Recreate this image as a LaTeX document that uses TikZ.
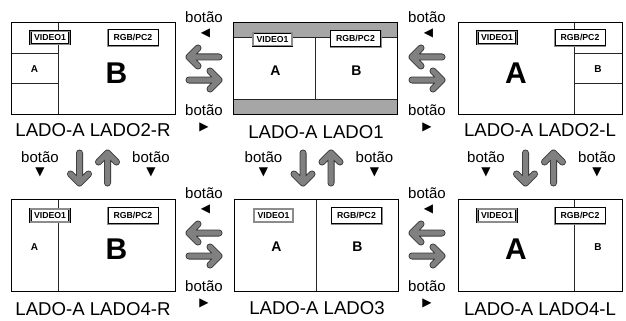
\documentclass[tikz,border=0pt]{standalone}
\usepackage{fontspec}
\setmainfont{Liberation Sans}
\newfontfamily\symfont{DejaVu Sans}
\begin{document}
\begin{tikzpicture}[x=1pt,y=-1pt,
  screen/.style={draw=black, line width=1pt},
  divider/.style={draw=black!85, line width=0.8pt},
  graybar/.style={fill=black!35},
  vidbox/.style={draw=black, double=black!45, double distance=1.1pt, line width=0.5pt, fill=white,
    inner sep=0pt, minimum width=39pt, minimum height=13pt, font=\bfseries\fontsize{8.7}{9}\selectfont},
  rgbbox/.style={draw=black, line width=0.5pt, fill=white, preaction={draw=black!45,line width=2pt},
    inner sep=0pt, minimum width=50pt, minimum height=16pt, font=\bfseries\fontsize{8.7}{9}\selectfont},
  smalltxt/.style={font=\bfseries\fontsize{10}{11}\selectfont},
  midtxt/.style={font=\bfseries\fontsize{14}{15}\selectfont},
  bigtxt/.style={font=\bfseries\fontsize{30}{31}\selectfont},
  ladolbl/.style={font=\fontsize{18.6}{19}\selectfont, inner sep=0pt},
  btnlbl/.style={font=\fontsize{15}{16}\selectfont, inner sep=0pt},
  tri/.style={font=\symfont\fontsize{12}{13}\selectfont, inner sep=0pt},
  arrowbody/.style={draw=black!78, double=black!50, double distance=5.2pt, line width=0.9pt,
    line cap=round, line join=round},
  arrL/.pic={\draw[arrowbody] (15,0) -- (-15,0) -- (-6,-9) (-15,0) -- (-6,9);},
  arrR/.pic={\draw[arrowbody] (-15,0) -- (15,0) -- (6,-9) (15,0) -- (6,9);},
  arrD/.pic={\draw[arrowbody] (0,-15) -- (0,15) -- (-9,6) (0,15) -- (9,6);},
  arrU/.pic={\draw[arrowbody] (0,15) -- (0,-15) -- (-9,-6) (0,-15) -- (9,-6);}
]
\useasboundingbox (0,0) rectangle (626,321);

% ---------- Screen 1: LADO2-R ----------
\begin{scope}[shift={(11,22.7)}]
  \draw[divider] (47,0) -- (47,92) (0,30.3) -- (47,30.3) (0,60.3) -- (47,60.3);
  \node[vidbox] (v1) at (39,15) {VIDEO1};
  \node[rgbbox] (r1) at (122,15) {RGB/PC2};
  \node[smalltxt] (a1) at (23.5,46) {A};
  \node[bigtxt] (b1) at (105.5,50) {B};
  \draw[screen] (0,0) rectangle (164,92);
\end{scope}
\node[ladolbl] (l1) at (93,130) {LADO-A LADO2-R};

% ---------- Screen 2: LADO1 ----------
\begin{scope}[shift={(233.5,22.7)}]
  \fill[graybar] (0,0) rectangle (164,14.3);
  \fill[graybar] (0,76.3) rectangle (164,92);
  \draw[divider] (82,14.3) -- (82,76.3) (0,14.3) -- (164,14.3) (0,76.3) -- (164,76.3);
  \node[vidbox] (v2) at (39,16.5) {VIDEO1};
  \node[rgbbox] (r2) at (122,16) {RGB/PC2};
  \node[midtxt] (a2) at (42,48) {A};
  \node[midtxt] (b2) at (123,48) {B};
  \draw[screen] (0,0) rectangle (164,92);
\end{scope}
\node[ladolbl] (l2) at (316,132) {LADO-A LADO1};

% ---------- Screen 3: LADO2-L ----------
\begin{scope}[shift={(458,22.7)}]
  \draw[divider] (116,0) -- (116,92) (116,30.3) -- (164,30.3) (116,60.3) -- (164,60.3);
  \node[vidbox] (v3) at (39,15) {VIDEO1};
  \node[rgbbox] (r3) at (122,15) {RGB/PC2};
  \node[bigtxt] (a3) at (58,50) {A};
  \node[smalltxt] (b3) at (140,46) {B};
  \draw[screen] (0,0) rectangle (164,92);
\end{scope}
\node[ladolbl] (l3) at (540,130.5) {LADO-A LADO2-L};

% ---------- Screen 4: LADO4-R ----------
\begin{scope}[shift={(11,199)}]
  \draw[divider] (47,0) -- (47,92);
  \node[vidbox] (v4) at (39,16.5) {VIDEO1};
  \node[rgbbox] (r4) at (122,16.5) {RGB/PC2};
  \node[smalltxt] (a4) at (23.5,48) {A};
  \node[bigtxt] (b4) at (105.5,50) {B};
  \draw[screen] (0,0) rectangle (164,92);
\end{scope}
\node[ladolbl] (l4) at (93,309.5) {LADO-A LADO4-R};

% ---------- Screen 5: LADO3 ----------
\begin{scope}[shift={(234.5,199)}]
  \draw[divider] (82,0) -- (82,92);
  \node[vidbox] (v5) at (39,16.5) {VIDEO1};
  \node[rgbbox] (r5) at (122,16.5) {RGB/PC2};
  \node[midtxt] (a5) at (42,48) {A};
  \node[midtxt] (b5) at (123,48) {B};
  \draw[screen] (0,0) rectangle (164,92);
\end{scope}
\node[ladolbl] (l5) at (317,308.5) {LADO-A LADO3};

% ---------- Screen 6: LADO4-L ----------
\begin{scope}[shift={(458,199)}]
  \draw[divider] (116,0) -- (116,92);
  \node[vidbox] (v6) at (39,16.5) {VIDEO1};
  \node[rgbbox] (r6) at (122,16.5) {RGB/PC2};
  \node[bigtxt] (a6) at (58,50) {A};
  \node[smalltxt] (b6) at (140,48) {B};
  \draw[screen] (0,0) rectangle (164,92);
\end{scope}
\node[ladolbl] (l6) at (540,309.5) {LADO-A LADO4-L};

% ---------- horizontal arrows ----------
\foreach \gx/\nm in {204/a, 427/b} {
  \foreach \gy/\rw in {0/t, 176/u} {
    \node[btnlbl] (bt\nm\rw) at (\gx,17+\gy) {botão};
    \node[tri] (tl\nm\rw) at (\gx+1.5,33+\gy) {◀};
    \pic at (\gx,57+\gy) {arrL};
    \pic at (\gx,80+\gy) {arrR};
    \node[btnlbl] (bb\nm\rw) at (\gx,110+\gy) {botão};
    \node[tri] (tr\nm\rw) at (\gx,127+\gy) {▶};
  }
}

% ---------- vertical arrows ----------
\foreach \cx/\nm in {93/a, 316.5/b, 539/c} {
  \pic at (\cx-13.5,168) {arrD};
  \pic at (\cx+14.5,168) {arrU};
  \node[btnlbl] (vl\nm) at (\cx-53,157) {botão};
  \node[tri] (vtl\nm) at (\cx-53,172) {▼};
  \node[btnlbl] (vr\nm) at (\cx+58,157) {botão};
  \node[tri] (vtr\nm) at (\cx+58,172) {▼};
}
\end{tikzpicture}
\end{document}
